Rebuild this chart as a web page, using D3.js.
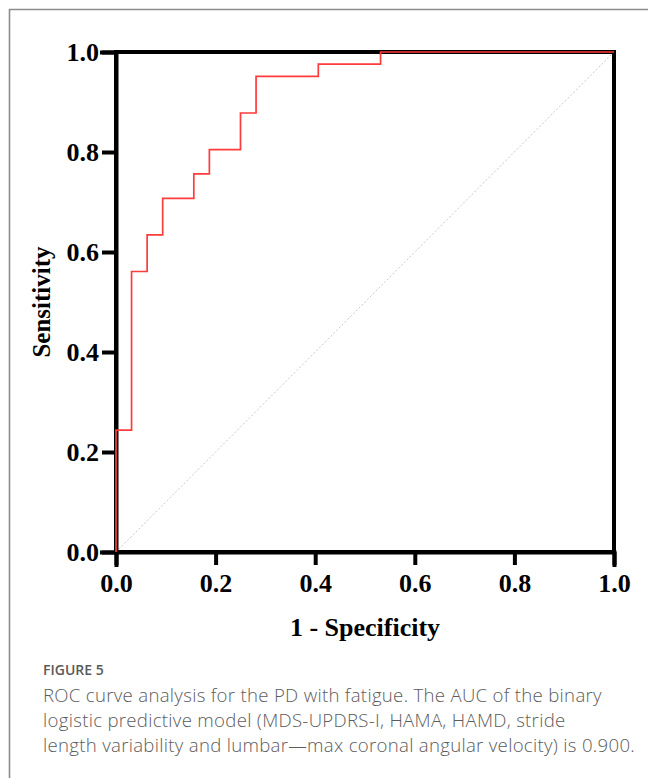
<!DOCTYPE html>
<html>
<head>
<meta charset="utf-8">
<script src="https://cdn.jsdelivr.net/npm/d3@7"></script>
<style>
    body { margin: 0; background: #fff; }
    #chart { width: 648px; height: 778px; }
</style>
</head>
<body>
<div id="chart"></div>
<script>
// ROC curve steps (1 - specificity, sensitivity)
var fpr = [0, 0, 0.03125, 0.03125, 0.0625, 0.0625, 0.09375, 0.09375, 0.15625, 0.15625, 0.1875, 0.1875, 0.25, 0.25, 0.28125, 0.28125, 0.40625, 0.40625, 0.53125, 0.53125, 1.0];
var tpr = [0, 0.2439, 0.2439, 0.5610, 0.5610, 0.6341, 0.6341, 0.7073, 0.7073, 0.7561, 0.7561, 0.8049, 0.8049, 0.8780, 0.8780, 0.9512, 0.9512, 0.9756, 0.9756, 1.0, 1.0];
var tickValues = [0, 0.2, 0.4, 0.6, 0.8, 1.0];
var captionTitle = "FIGURE 5";
var captionLines = [
    "ROC curve analysis for the PD with fatigue. The AUC of the binary",
    "logistic predictive model (MDS-UPDRS-I, HAMA, HAMD, stride",
    "length variability and lumbar\u2014max coronal angular velocity) is 0.900."
];

var width = 648, height = 778;
var svg = d3.select("#chart").append("svg")
    .attr("width", width)
    .attr("height", height);

// card frame (only left and top visible)
svg.append("path")
    .attr("d", "M9.5," + height + "V9.5H" + width)
    .attr("fill", "none")
    .attr("stroke", "#8c8c8c")
    .attr("stroke-width", 1.6);

var x = d3.scaleLinear().domain([0, 1]).range([116, 614]);
var y = d3.scaleLinear().domain([0, 1]).range([552, 52]);

var serif = "'Liberation Serif', 'Times New Roman', serif";

// reference diagonal
svg.append("line")
    .attr("x1", x(0)).attr("y1", y(0))
    .attr("x2", x(1)).attr("y2", y(1))
    .attr("stroke", "#c8c8c8")
    .attr("stroke-width", 1)
    .attr("stroke-dasharray", "2,2");

// box around plot
svg.append("rect")
    .attr("x", x(0)).attr("y", y(1))
    .attr("width", x(1) - x(0))
    .attr("height", y(0) - y(1))
    .attr("fill", "none")
    .attr("stroke", "#000")
    .attr("stroke-width", 4);

var xAxis = svg.append("g")
    .attr("transform", "translate(0," + y(0) + ")")
    .call(d3.axisBottom(x).tickValues(tickValues).tickFormat(d3.format(".1f")).tickSize(13).tickPadding(9));

var yAxis = svg.append("g")
    .attr("transform", "translate(" + x(0) + ",0)")
    .call(d3.axisLeft(y).tickValues(tickValues).tickFormat(d3.format(".1f")).tickSize(14).tickPadding(3));

[xAxis, yAxis].forEach(function (ax) {
    ax.select(".domain").attr("stroke-width", 4).attr("stroke-linecap", "square");
    ax.selectAll(".tick line").attr("stroke-width", 4);
    ax.selectAll(".tick text")
        .style("font-family", serif)
        .style("font-weight", "bold")
        .style("font-size", "26px")
        .attr("fill", "#000");
});

// the ROC curve
var linea = d3.line()
    .x(function (d) { return x(d[0]); })
    .y(function (d) { return y(d[1]); });

svg.append("path")
    .datum(d3.zip(fpr, tpr))
    .attr("d", linea)
    .attr("fill", "none")
    .attr("stroke", "#ff3b3b")
    .attr("stroke-width", 1.7);

// axis titles
svg.append("text")
    .attr("x", (x(0) + x(1)) / 2)
    .attr("y", 636)
    .attr("text-anchor", "middle")
    .style("font-family", serif)
    .style("font-weight", "bold")
    .style("font-size", "26px")
    .text("1 - Specificity");

svg.append("text")
    .attr("transform", "translate(50," + ((y(0) + y(1)) / 2) + ") rotate(-90)")
    .attr("text-anchor", "middle")
    .style("font-family", serif)
    .style("font-weight", "bold")
    .style("font-size", "25px")
    .text("Sensitivity");

// caption
svg.append("text")
    .attr("x", 43)
    .attr("y", 675)
    .attr("fill", "#5a5a5a")
    .style("font-family", "'Open Sans', 'Noto Sans', sans-serif")
    .style("font-weight", 600)
    .style("font-size", "14px")
    .text(captionTitle);

svg.selectAll("text.caption")
    .data(captionLines)
    .enter().append("text")
    .attr("class", "caption")
    .attr("x", 43)
    .attr("y", function (d, i) { return 702 + i * 25; })
    .attr("fill", "#5c5c5c")
    .style("font-family", "'Open Sans', 'Noto Sans', sans-serif")
    .style("font-weight", 300)
    .style("font-size", "18.6px")
    .style("letter-spacing", "0.3px")
    .text(function (d) { return d; });
</script>
</body>
</html>
